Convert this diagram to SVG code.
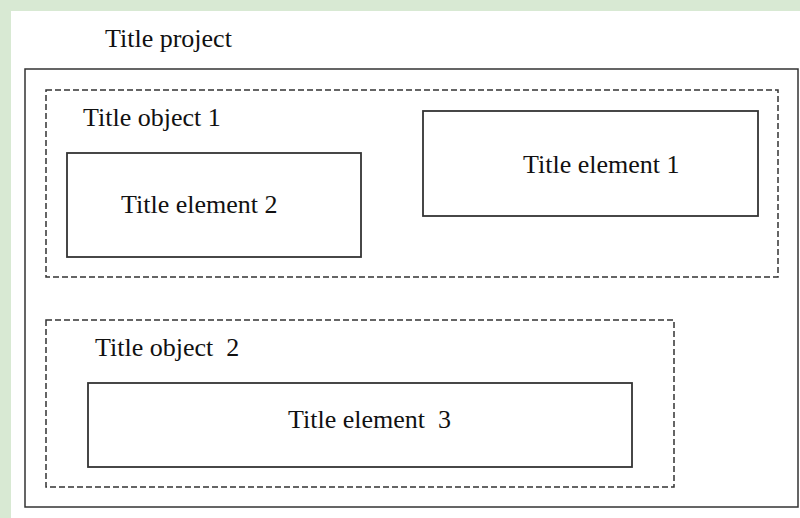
<svg xmlns="http://www.w3.org/2000/svg" width="800" height="518" viewBox="0 0 800 518">
  <style>
    .lbl { font-family: "Liberation Serif", "Times New Roman", serif; font-size: 26px; fill: #111; white-space: pre; }
    .frame { fill: none; stroke: #333; stroke-width: 1.5; }
    .group { fill: none; stroke: #333; stroke-width: 1.5; stroke-dasharray: 6 3; }
    .box { fill: #fff; stroke: #333; stroke-width: 1.8; }
  </style>
  <!-- page background and sheet -->
  <rect x="0" y="0" width="800" height="518" fill="#d8e9d3"/>
  <rect x="11" y="11" width="789" height="507" fill="#fff"/>

  <g id="project">
    <text class="lbl" x="105" y="47">Title project</text>
    <rect class="frame" x="25" y="69" width="773" height="438"/>
  </g>

  <g id="object1">
    <rect class="group" x="46" y="90" width="732" height="187"/>
    <text class="lbl" x="83" y="126">Title object 1</text>
  </g>

  <g id="element1">
    <rect class="box" x="423" y="111" width="335" height="105"/>
    <text class="lbl" x="523" y="173">Title element 1</text>
  </g>

  <g id="element2">
    <rect class="box" x="67" y="153" width="294" height="104"/>
    <text class="lbl" x="121" y="213">Title element 2</text>
  </g>

  <g id="object2">
    <rect class="group" x="46" y="320" width="628" height="167"/>
    <text class="lbl" x="95" y="356">Title object  2</text>
  </g>

  <g id="element3">
    <rect class="box" x="88" y="383" width="544" height="84"/>
    <text class="lbl" x="288" y="428">Title element  3</text>
  </g>

  <g id="connectors"/>
</svg>
